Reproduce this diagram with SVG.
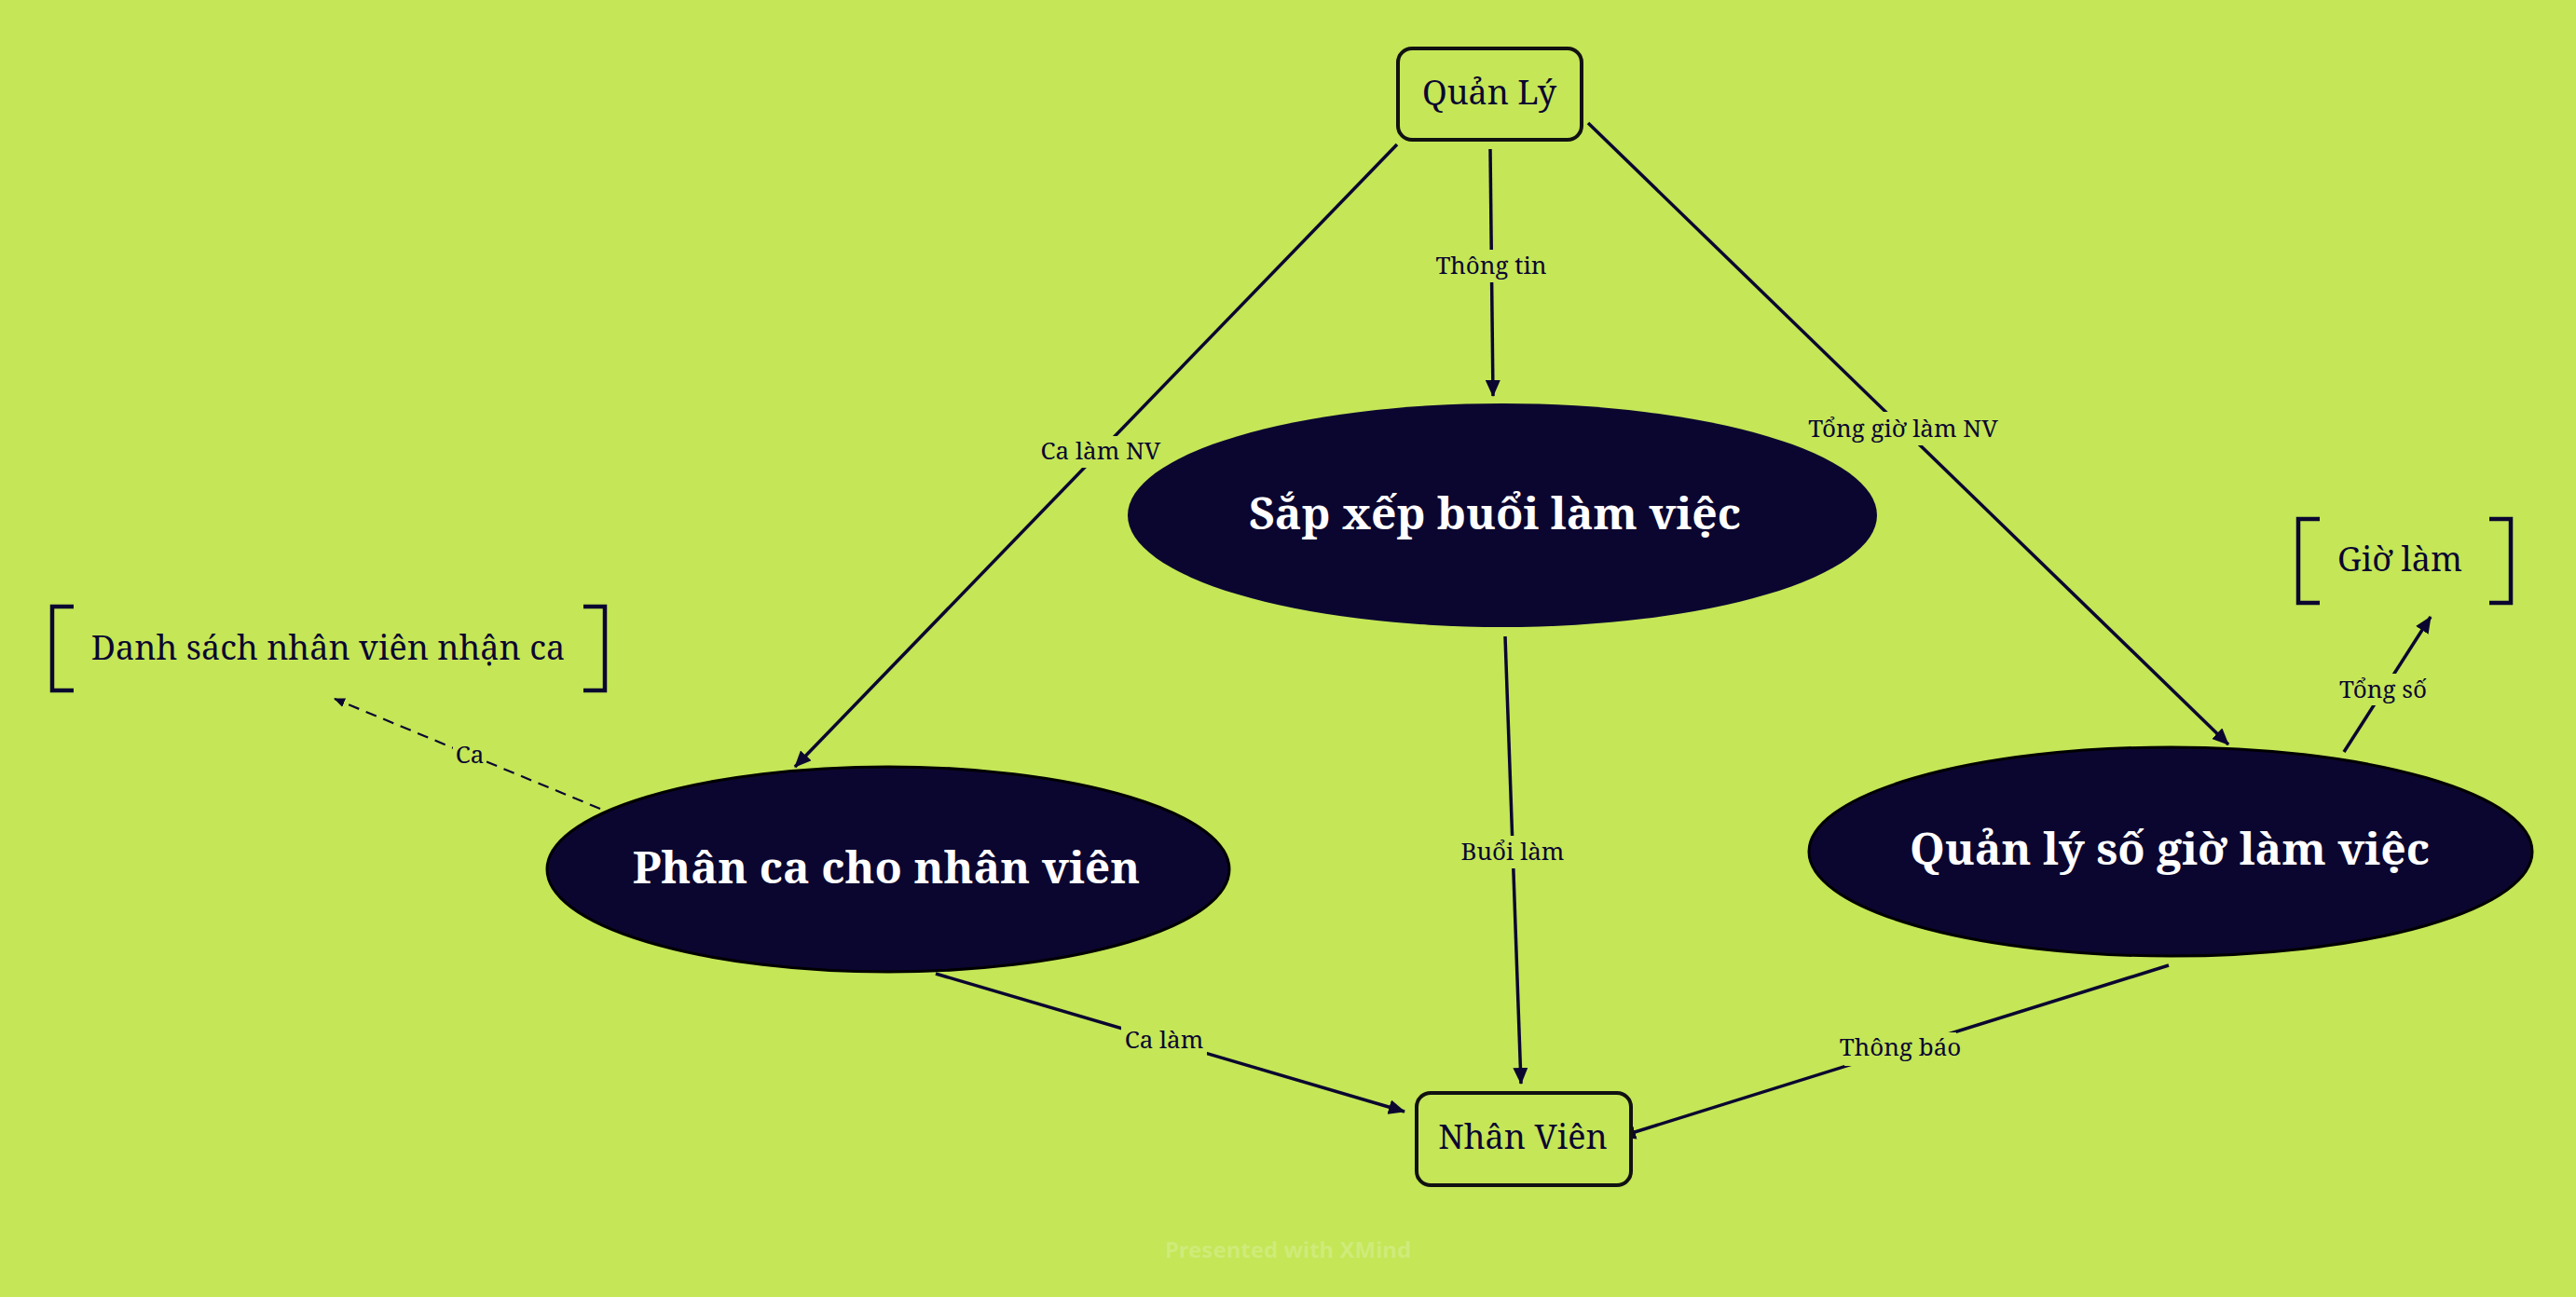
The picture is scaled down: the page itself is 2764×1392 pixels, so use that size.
<svg xmlns="http://www.w3.org/2000/svg" width="2764" height="1392" viewBox="0 0 2764 1392">
  <style>
    .bg { fill: #c4e657; }
    .box { fill: #c4e657; stroke: #111111; stroke-width: 4; }
    .ell { fill: #0b0630; stroke: #000000; stroke-width: 3; }
    .ell2 { fill: #0b0630; stroke: none; }
    .boxtxt { font-family: "Noto Serif", "DejaVu Serif", "Liberation Serif", serif; font-size: 36px; fill: #0b0630; text-anchor: middle; }
    .elltxt { font-family: "Noto Serif", "DejaVu Serif", "Liberation Serif", serif; font-size: 48px; font-weight: bold; fill: #ffffff; text-anchor: middle; }
    .brk { fill: none; stroke: #0b0630; stroke-width: 4.5; }
    .conn { fill: none; stroke: #0b0630; stroke-width: 3.5; }
    .dash { fill: none; stroke: #0b0630; stroke-width: 2.2; stroke-dasharray: 12 8; }
    .lbl { font-family: "Noto Serif", "DejaVu Serif", "Liberation Serif", serif; font-size: 26px; fill: #0b0630; text-anchor: middle; }
    .lblbg { fill: #c4e657; }
    .wm { font-family: "Noto Sans", "DejaVu Sans", sans-serif; font-size: 24px; font-weight: bold; fill: #cfeb78; text-anchor: middle; }
  </style>
  <defs>
    <marker id="arr" markerUnits="userSpaceOnUse" markerWidth="18" markerHeight="16" refX="17" refY="8" orient="auto">
      <path d="M0,0 L18,8 L0,16 z" fill="#0b0630"/>
    </marker>
    <marker id="arrs" markerUnits="userSpaceOnUse" markerWidth="12" markerHeight="10" refX="11" refY="5" orient="auto">
      <path d="M0,0 L12,5 L0,10 z" fill="#0b0630"/>
    </marker>
  </defs>
  <rect class="bg" x="0" y="0" width="2764" height="1392"/>

  <g id="connectors">
    <line class="conn" x1="1499" y1="155" x2="853" y2="823" marker-end="url(#arr)"/>
    <rect class="lblbg" x="1114" y="468" width="134" height="34"/>
    <text class="lbl" x="1181" y="493">Ca làm NV</text>

    <line class="conn" x1="1599" y1="160" x2="1602" y2="425" marker-end="url(#arr)"/>
    <rect class="lblbg" x="1540" y="268" width="122" height="35"/>
    <text class="lbl" x="1600" y="294">Thông tin</text>

    <line class="conn" x1="1704" y1="132" x2="2391" y2="799" marker-end="url(#arr)"/>
    <rect class="lblbg" x="1935" y="442" width="214" height="36"/>
    <text class="lbl" x="2042" y="469">Tổng giờ làm NV</text>

    <line class="conn" x1="1615" y1="683" x2="1632" y2="1163" marker-end="url(#arr)"/>
    <rect class="lblbg" x="1565" y="897" width="116" height="35"/>
    <text class="lbl" x="1623" y="923">Buổi làm</text>

    <line class="conn" x1="1004" y1="1045" x2="1507" y2="1193" marker-end="url(#arr)"/>
    <rect class="lblbg" x="1203" y="1098" width="92" height="36"/>
    <text class="lbl" x="1249" y="1125">Ca làm</text>

    <line class="conn" x1="2327" y1="1036" x2="1738" y2="1220" marker-end="url(#arr)"/>
    <rect class="lblbg" x="1979" y="1108" width="120" height="36"/>
    <text class="lbl" x="2039" y="1133">Thông báo</text>

    <line class="conn" x1="2515" y1="807" x2="2608" y2="662" marker-end="url(#arr)"/>
    <rect class="lblbg" x="2507" y="723" width="100" height="34"/>
    <text class="lbl" x="2557" y="749">Tổng số</text>

    <line class="dash" x1="644" y1="868" x2="359" y2="750" marker-end="url(#arrs)"/>
    <rect class="lblbg" x="486" y="799" width="36" height="28"/>
    <text class="lbl" x="504" y="819">Ca</text>
  </g>

  <g id="node-quan-ly">
    <rect class="box" x="1500" y="52" width="197" height="98" rx="15"/>
    <text class="boxtxt" x="1598" y="112">Quản Lý</text>
  </g>

  <g id="node-sap-xep">
    <ellipse class="ell2" cx="1612" cy="553" rx="402" ry="120"/>
    <text class="elltxt" x="1604" y="568">Sắp xếp buổi làm việc</text>
  </g>

  <g id="node-phan-ca">
    <ellipse class="ell" cx="953" cy="933" rx="366" ry="110"/>
    <text class="elltxt" x="951" y="948">Phân ca cho nhân viên</text>
  </g>

  <g id="node-quan-ly-gio">
    <ellipse class="ell" cx="2329" cy="914" rx="388" ry="112"/>
    <text class="elltxt" x="2328" y="928">Quản lý số giờ làm việc</text>
  </g>

  <g id="node-nhan-vien">
    <rect class="box" x="1520" y="1173" width="230" height="99" rx="15"/>
    <text class="boxtxt" x="1634" y="1233">Nhân Viên</text>
  </g>

  <g id="node-danh-sach">
    <path class="brk" d="M79,651 H56 V741 H79"/>
    <path class="brk" d="M626,651 H649 V741 H626"/>
    <text class="boxtxt" x="352" y="708">Danh sách nhân viên nhận ca</text>
  </g>

  <g id="node-gio-lam">
    <path class="brk" d="M2489,557 H2466 V647 H2489"/>
    <path class="brk" d="M2671,557 H2694 V647 H2671"/>
    <text class="boxtxt" x="2575" y="613">Giờ làm</text>
  </g>

  <text class="wm" x="1382" y="1350">Presented with XMind</text>
</svg>
